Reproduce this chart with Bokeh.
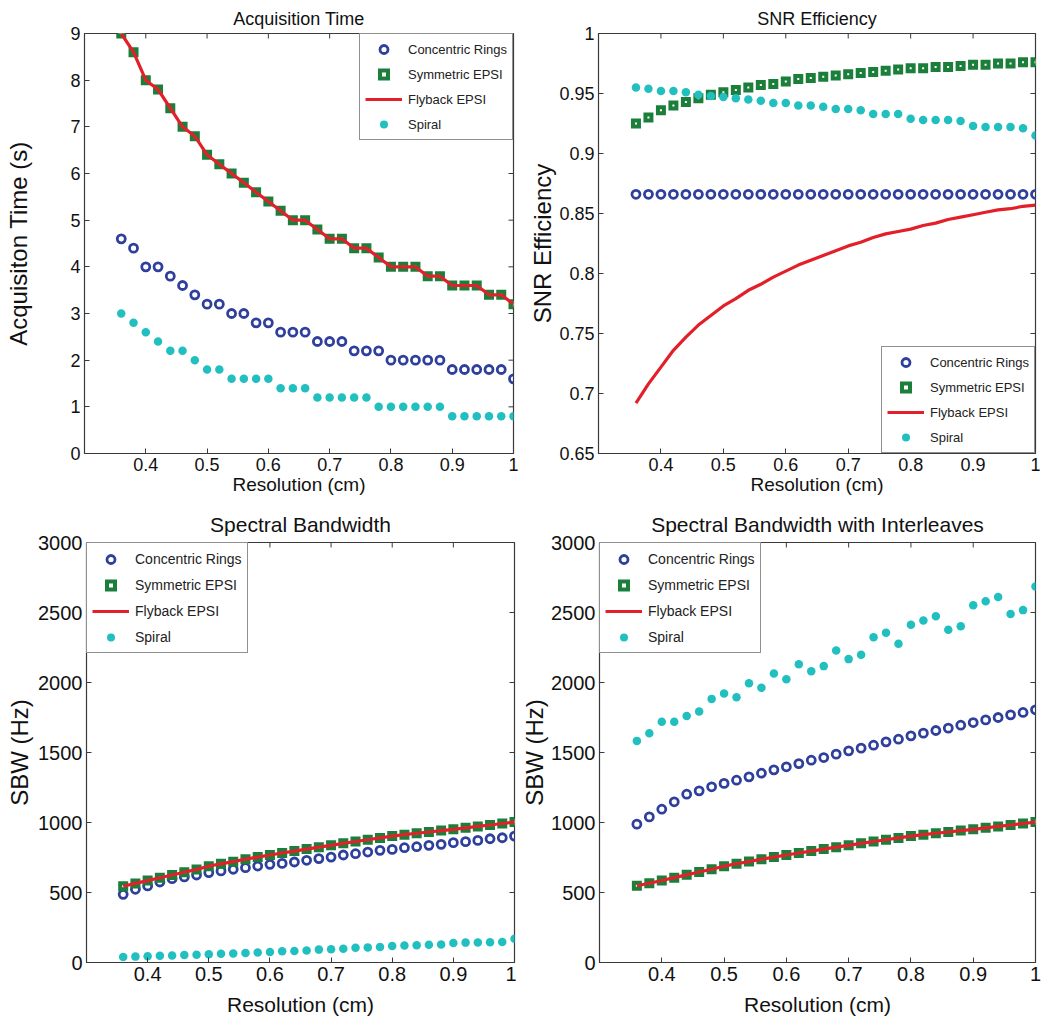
import math
from bokeh.plotting import figure
from bokeh.layouts import column, row
from bokeh.models import (FixedTicker, CustomJSTickFormatter, Legend,
                          LegendItem, Range1d)
from bokeh.embed import file_html
from bokeh.resources import INLINE

# ---------------- data ----------------
resolution = [0.36, 0.38, 0.40, 0.42, 0.44, 0.46, 0.48, 0.50, 0.52, 0.54, 0.56,
              0.58, 0.60, 0.62, 0.64, 0.66, 0.68, 0.70, 0.72, 0.74, 0.76, 0.78,
              0.80, 0.82, 0.84, 0.86, 0.88, 0.90, 0.92, 0.94, 0.96, 0.98, 1.00]

series_names = ["Concentric Rings", "Symmetric EPSI", "Flyback EPSI", "Spiral"]

# Acquisition time (s)
acq_rings = [4.6, 4.4, 4.0, 4.0, 3.8, 3.6, 3.4, 3.2, 3.2, 3.0, 3.0, 2.8, 2.8, 2.6,
             2.6, 2.6, 2.4, 2.4, 2.4, 2.2, 2.2, 2.2, 2.0, 2.0, 2.0, 2.0, 2.0, 1.8,
             1.8, 1.8, 1.8, 1.8, 1.6]
acq_sym = [9.0, 8.6, 8.0, 7.8, 7.4, 7.0, 6.8, 6.4, 6.2, 6.0, 5.8, 5.6, 5.4, 5.2,
           5.0, 5.0, 4.8, 4.6, 4.6, 4.4, 4.4, 4.2, 4.0, 4.0, 4.0, 3.8, 3.8, 3.6,
           3.6, 3.6, 3.4, 3.4, 3.2]
acq_fly = [9.0, 8.6, 8.0, 7.8, 7.4, 7.0, 6.8, 6.4, 6.2, 6.0, 5.8, 5.6, 5.4, 5.2,
           5.0, 5.0, 4.8, 4.6, 4.6, 4.4, 4.4, 4.2, 4.0, 4.0, 4.0, 3.8, 3.8, 3.6,
           3.6, 3.6, 3.4, 3.4, 3.2]
acq_spiral = [3.0, 2.8, 2.6, 2.4, 2.2, 2.2, 2.0, 1.8, 1.8, 1.6, 1.6, 1.6, 1.6, 1.4,
              1.4, 1.4, 1.2, 1.2, 1.2, 1.2, 1.2, 1.0, 1.0, 1.0, 1.0, 1.0, 1.0, 0.8,
              0.8, 0.8, 0.8, 0.8, 0.8]

# SNR efficiency
snr_rings = [0.866] * 33
snr_sym = [0.925, 0.930, 0.936, 0.940, 0.943, 0.946, 0.949, 0.951, 0.953, 0.955,
           0.957, 0.958, 0.960, 0.962, 0.963, 0.964, 0.965, 0.966, 0.967, 0.968,
           0.969, 0.970, 0.971, 0.971, 0.972, 0.972, 0.973, 0.974, 0.974, 0.975,
           0.975, 0.976, 0.976]
snr_fly = [0.692, 0.708, 0.722, 0.736, 0.747, 0.757, 0.765, 0.773, 0.779, 0.786,
           0.791, 0.797, 0.802, 0.807, 0.811, 0.815, 0.819, 0.823, 0.826, 0.830,
           0.833, 0.835, 0.837, 0.840, 0.842, 0.845, 0.847, 0.849, 0.851, 0.853,
           0.854, 0.856, 0.857]
snr_spiral = [0.955, 0.954, 0.952, 0.952, 0.951, 0.949, 0.948, 0.947, 0.946, 0.945,
              0.944, 0.942, 0.942, 0.940, 0.940, 0.939, 0.937, 0.937, 0.936, 0.933,
              0.933, 0.933, 0.929, 0.928, 0.928, 0.928, 0.927, 0.923, 0.922, 0.922,
              0.922, 0.921, 0.915]

# Spectral bandwidth (Hz)
sbw_rings = [487, 523, 547, 575, 599, 611, 625, 642, 654, 666, 677, 689, 701, 708,
             718, 730, 742, 753, 768, 777, 789, 801, 808, 820, 827, 837, 844, 856,
             863, 872, 884, 891, 903]
sbw_sym = [545, 565, 585, 605, 625, 645, 665, 688, 705, 720, 738, 753, 768, 782,
           796, 810, 824, 837, 851, 864, 877, 890, 903, 913, 923, 932, 942, 951,
           962, 972, 982, 993, 1003]
sbw_fly = [545, 565, 585, 605, 625, 645, 665, 688, 705, 720, 738, 753, 768, 782,
           796, 810, 824, 837, 851, 864, 877, 890, 903, 913, 923, 932, 942, 951,
           962, 972, 982, 993, 1003]
sbw_spiral = [40, 42, 45, 48, 50, 53, 56, 59, 62, 65, 68, 72, 75, 80, 82, 85, 92,
              95, 98, 105, 108, 110, 118, 122, 124, 126, 128, 140, 142, 143, 145,
              147, 170]

# Spectral bandwidth with interleaves (Hz)
sbwi_rings = [988, 1040, 1095, 1148, 1202, 1226, 1255, 1279, 1302, 1326, 1352,
              1376, 1398, 1421, 1445, 1464, 1488, 1512, 1531, 1552, 1576, 1595,
              1619, 1638, 1657, 1674, 1695, 1714, 1733, 1750, 1769, 1786, 1805]
sbwi_sym = [548, 566, 586, 606, 626, 646, 666, 688, 705, 721, 738, 753, 768, 782,
            796, 810, 824, 837, 851, 864, 877, 890, 903, 913, 923, 932, 942, 951,
            962, 972, 982, 993, 1003]
sbwi_fly = [548, 566, 586, 606, 626, 646, 666, 688, 705, 721, 738, 753, 768, 782,
            796, 810, 824, 837, 851, 864, 877, 890, 903, 913, 923, 932, 942, 951,
            962, 972, 982, 993, 1003]
sbwi_spiral = [1583, 1638, 1719, 1719, 1760, 1793, 1883, 1921, 1895, 1995, 1962,
               2064, 2024, 2131, 2081, 2117, 2229, 2167, 2198, 2324, 2355, 2276,
               2412, 2443, 2474, 2376, 2402, 2552, 2581, 2610, 2490, 2517, 2686]

x_ticks = [0.4, 0.5, 0.6, 0.7, 0.8, 0.9, 1.0]
acq_ticks = [0, 1, 2, 3, 4, 5, 6, 7, 8, 9]
snr_ticks = [0.65, 0.7, 0.75, 0.8, 0.85, 0.9, 0.95, 1.0]
sbw_ticks = [0, 500, 1000, 1500, 2000, 2500, 3000]

# ---------------- styling ----------------
FONT = "Liberation Sans"
C_BLUE = "#2f3f9c"
C_GREEN = "#1b7f3b"
C_RED = "#e3202a"
C_CYAN = "#22bfc0"
C_AX = "#3a3a3a"

fmt = CustomJSTickFormatter(code="return String(parseFloat(tick.toFixed(2)));")


def make_panel(title, ylabel, y0, y1, yticks, rings, sym, fly, spiral, legend_loc,
               width, height, bl, br, bt, bb, ylabel_standoff, title_standoff,
               title_fs, tick_fs, xlabel_fs, xlabel_standoff, legend_fs, label_h):
    x0, x1 = 0.3, 1.0
    p = figure(width=width, height=height, output_backend="svg",
               toolbar_location=None, x_range=Range1d(x0, x1),
               y_range=Range1d(y0, y1), min_border_left=bl, min_border_right=br,
               min_border_top=bt, min_border_bottom=bb)
    p.xgrid.visible = False
    p.ygrid.visible = False
    p.outline_line_color = C_AX
    p.outline_line_width = 1.2
    p.background_fill_color = "white"
    p.border_fill_color = "white"

    p.title.text = title
    p.title.align = "center"
    p.title.text_font = FONT
    p.title.text_font_size = title_fs
    p.title.text_font_style = "normal"
    p.title.text_color = "#111111"
    p.title.standoff = title_standoff

    for ax in (p.xaxis[0], p.yaxis[0]):
        ax.formatter = fmt
        ax.major_tick_in = 5
        ax.major_tick_out = 0
        ax.minor_tick_line_color = None
        ax.axis_line_color = C_AX
        ax.major_tick_line_color = C_AX
        ax.major_label_text_font = FONT
        ax.major_label_text_font_size = tick_fs
        ax.major_label_text_color = "#111111"
        ax.major_label_standoff = 4
        ax.axis_label_text_font = FONT
        ax.axis_label_text_font_style = "normal"
        ax.axis_label_text_color = "#111111"
    p.xaxis[0].ticker = FixedTicker(ticks=x_ticks)
    p.yaxis[0].ticker = FixedTicker(ticks=yticks)
    p.xaxis[0].axis_label = "Resolution (cm)"
    p.xaxis[0].axis_label_text_font_size = xlabel_fs
    p.xaxis[0].axis_label_standoff = xlabel_standoff
    p.yaxis[0].axis_label = ylabel
    p.yaxis[0].axis_label_text_font_size = "24px"
    p.yaxis[0].axis_label_standoff = ylabel_standoff

    # mirrored inward ticks on the top and right edges of the box
    p.ray(x=x_ticks, y=[y1] * len(x_ticks), length=5, length_units="screen",
          angle=-math.pi / 2, line_color=C_AX, line_width=1)
    p.ray(x=[x1] * len(yticks), y=yticks, length=5, length_units="screen",
          angle=math.pi, line_color=C_AX, line_width=1)

    r1 = p.scatter(resolution, rings, marker="circle", size=8, line_width=2.8,
                   line_color=C_BLUE, fill_color="white", fill_alpha=0)
    r2 = p.scatter(resolution, sym, marker="square", size=6, line_width=4,
                   line_color=C_GREEN, fill_color="white", line_join="miter")
    r3 = p.line(resolution, fly, line_color=C_RED, line_width=3.2)
    r4 = p.scatter(resolution, spiral, marker="circle", size=8.5, line_width=0,
                   fill_color=C_CYAN, line_color=C_CYAN)

    legend = Legend(items=[LegendItem(label=n, renderers=[r])
                           for n, r in zip(series_names, (r1, r2, r3, r4))],
                    location=legend_loc, margin=0, padding=5, spacing=5,
                    glyph_width=37, glyph_height=20, label_standoff=6,
                    label_text_font=FONT, label_text_font_size=legend_fs,
                    label_text_color="#222222", label_height=label_h,
                    border_line_color="#222222", border_line_width=1.2,
                    background_fill_color="white", background_fill_alpha=1.0)
    p.add_layout(legend)
    return p


TOP = dict(title_fs="18px", tick_fs="18px", xlabel_fs="19px", xlabel_standoff=0,
           legend_fs="13px", label_h=20)
BOT = dict(title_fs="21px", tick_fs="20px", xlabel_fs="21px", xlabel_standoff=9,
           legend_fs="14px", label_h=21)

p1 = make_panel("Acquisition Time", "Acquisiton Time (s)", 0, 9, acq_ticks,
                acq_rings, acq_sym, acq_fly, acq_spiral, "top_right",
                525, 503, 84, 12, 32, 50, 35, 10, **TOP)
p2 = make_panel("SNR Efficiency", "SNR Efficiency", 0.65, 1.0, snr_ticks,
                snr_rings, snr_sym, snr_fly, snr_spiral, "bottom_right",
                517, 503, 73, 7, 33, 49, 0, 10, **TOP)
p3 = make_panel("Spectral Bandwidth", "SBW (Hz)", 0, 3000, sbw_ticks,
                sbw_rings, sbw_sym, sbw_fly, sbw_spiral, "top_left",
                516, 519, 86, 2, 38, 60, 2, 13, **BOT)
p4 = make_panel("Spectral Bandwidth with Interleaves", "SBW (Hz)", 0, 3000, sbw_ticks,
                sbwi_rings, sbwi_sym, sbwi_fly, sbwi_spiral, "top_left",
                526, 519, 83, 7, 39, 59, 0, 13, **BOT)

layout = column(row(p1, p2), row(p3, p4))

with open("out.html", "w") as f:
    f.write(file_html(layout, INLINE))
